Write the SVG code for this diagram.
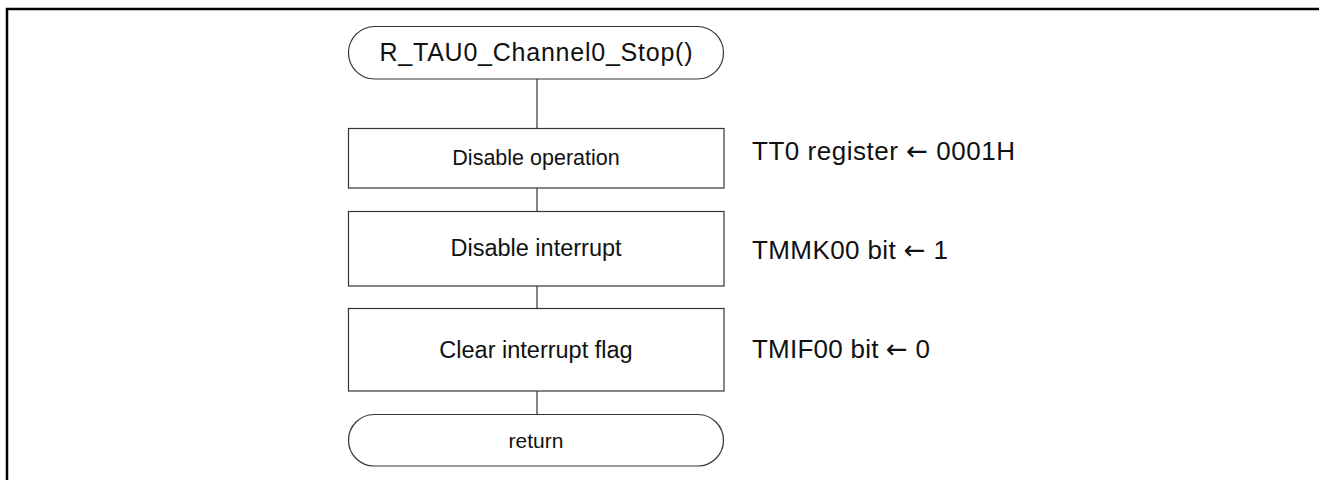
<svg xmlns="http://www.w3.org/2000/svg" width="1319" height="480" viewBox="0 0 1319 480">
<style>
.frame{fill:none;stroke:#000;stroke-width:2.5}
.shape{fill:#fff;stroke:#333;stroke-width:1.2}
.conn{fill:none;stroke:#333;stroke-width:1.2}
text{font-family:"Liberation Sans",Arial,sans-serif;fill:#111}
.c{text-anchor:middle}
.note{font-size:26px}
.arr{font-family:"DejaVu Sans",sans-serif;font-size:26px}
</style>
<rect width="1319" height="480" fill="#fff"/>
<path class="frame" d="M7,480 V9 H1319"/>
<g id="connectors">
<line class="conn" x1="537" y1="79" x2="537" y2="128"/>
<line class="conn" x1="537" y1="188" x2="537" y2="211"/>
<line class="conn" x1="537" y1="286" x2="537" y2="308"/>
<line class="conn" x1="537" y1="391" x2="537" y2="414"/>
</g>
<g id="start">
<rect class="shape" x="348.5" y="26.5" width="375" height="52.5" rx="26.25" ry="26.25"/>
<text class="c" x="536" y="61" font-size="25" textLength="313" lengthAdjust="spacing">R_TAU0_Channel0_Stop()</text>
</g>
<g id="disable-operation">
<rect class="shape" x="348.5" y="128.5" width="375.5" height="59.5"/>
<text class="c" x="536" y="165" font-size="21.5">Disable operation</text>
</g>
<g id="disable-interrupt">
<rect class="shape" x="348.5" y="211.5" width="375.5" height="74.5"/>
<text class="c" x="536" y="256" font-size="23.5">Disable interrupt</text>
</g>
<g id="clear-flag">
<rect class="shape" x="348.5" y="308.5" width="375.5" height="82.5"/>
<text class="c" x="536" y="358" font-size="23.5">Clear interrupt flag</text>
</g>
<g id="return">
<rect class="shape" x="348.5" y="414.5" width="375" height="51.5" rx="25.75" ry="25.75"/>
<text class="c" x="536" y="448" font-size="21">return</text>
</g>
<g id="notes">
<text class="note" x="752" y="160" textLength="263" lengthAdjust="spacing">TT0 register <tspan class="arr">←</tspan> 0001H</text>
<text class="note" x="752" y="259" textLength="196" lengthAdjust="spacing">TMMK00 bit <tspan class="arr">←</tspan> 1</text>
<text class="note" x="752" y="358" textLength="178" lengthAdjust="spacing">TMIF00 bit <tspan class="arr">←</tspan> 0</text>
</g>
</svg>
